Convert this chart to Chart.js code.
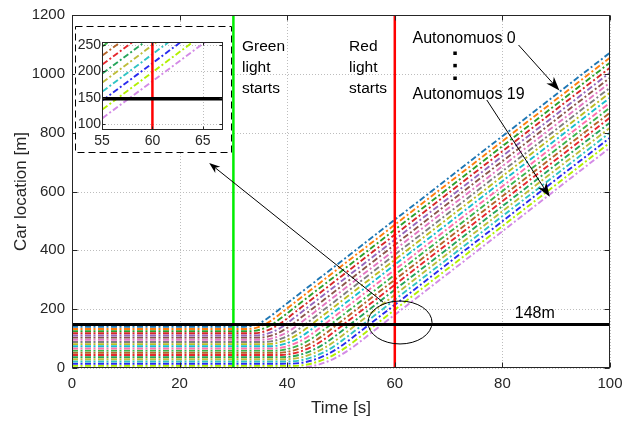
<!DOCTYPE html>
<html><head><meta charset="utf-8">
<script src="https://cdn.jsdelivr.net/npm/chart.js@4.4.1/dist/chart.umd.min.js"></script>
<style>
html,body{margin:0;padding:0;background:#fff;}
#wrap{position:relative;width:623px;height:421px;overflow:hidden;}
#main{position:absolute;left:0;top:0;}
#inset{position:absolute;left:75px;top:26px;}
</style></head><body>
<div id="wrap">
<canvas id="main" width="623" height="421"></canvas>
<canvas id="inset" width="157" height="127"></canvas>
</div>
<script>
const FONT = "'Liberation Sans', Arial, Helvetica, sans-serif";

// ---- data ----
const times = [0, 31, 33, 35, 37, 39, 41, 43, 45, 47, 49, 51, 53, 55, 60, 100];
const car00 = [140, 140, 141.5, 153.5, 177.4, 205.8, 234.2, 262.6, 291, 319.4, 347.8, 376.2, 404.6, 433, 504, 1072];
const car01 = [132.6, 132.6, 133.0, 141.3, 160.8, 188.8, 217.2, 245.6, 274, 302.4, 330.8, 359.2, 387.6, 416, 487, 1055];
const car02 = [125.3, 125.3, 125.3, 130.5, 146.2, 171.8, 200.2, 228.6, 257, 285.4, 313.8, 342.2, 370.6, 399, 470, 1038];
const car03 = [117.9, 117.9, 117.9, 120.7, 132.9, 154.9, 183.2, 211.6, 240, 268.4, 296.8, 325.2, 353.6, 382, 453, 1021];
const car04 = [110.5, 110.5, 110.5, 111.7, 120.9, 139.3, 166.2, 194.6, 223, 251.4, 279.8, 308.2, 336.6, 365, 436, 1004];
const car05 = [103.2, 103.2, 103.2, 103.5, 110.0, 125.3, 149.2, 177.6, 206, 234.4, 262.8, 291.2, 319.6, 348, 419, 987];
const car06 = [95.8, 95.8, 95.8, 95.8, 99.9, 112.3, 133.0, 160.6, 189, 217.4, 245.8, 274.2, 302.6, 331, 402, 970];
const car07 = [88.4, 88.4, 88.4, 88.4, 90.6, 100.4, 118.1, 143.6, 172, 200.4, 228.8, 257.2, 285.6, 314, 385, 953];
const car08 = [81.0, 81.0, 81.0, 81.0, 81.9, 89.4, 104.4, 126.9, 155, 183.4, 211.8, 240.2, 268.6, 297, 368, 936];
const car09 = [73.7, 73.7, 73.7, 73.7, 73.9, 79.3, 91.8, 111.5, 138, 166.4, 194.8, 223.2, 251.6, 280, 351, 919];
const car10 = [66.3, 66.3, 66.3, 66.3, 66.3, 69.7, 80.0, 97.1, 121.1, 149.4, 177.8, 206.2, 234.6, 263, 334, 902];
const car11 = [58.9, 58.9, 58.9, 58.9, 58.9, 60.8, 69.0, 83.7, 105.1, 132.4, 160.8, 189.2, 217.6, 246, 317, 885];
const car12 = [51.6, 51.6, 51.6, 51.6, 51.6, 52.4, 58.7, 71.3, 90.2, 115.4, 143.8, 172.2, 200.6, 229, 300, 868];
const car13 = [44.2, 44.2, 44.2, 44.2, 44.2, 44.4, 48.9, 59.5, 76.2, 99.0, 126.8, 155.2, 183.6, 212, 283, 851];
const car14 = [36.8, 36.8, 36.8, 36.8, 36.8, 36.8, 39.7, 48.5, 63.1, 83.5, 109.8, 138.2, 166.6, 195, 266, 834];
const car15 = [29.5, 29.5, 29.5, 29.5, 29.5, 29.5, 31.1, 38.1, 50.8, 69.1, 93.1, 121.2, 149.6, 178, 249, 817];
const car16 = [22.1, 22.1, 22.1, 22.1, 22.1, 22.1, 22.8, 28.2, 39.1, 55.4, 77.2, 104.2, 132.6, 161, 232, 800];
const car17 = [14.7, 14.7, 14.7, 14.7, 14.7, 14.7, 14.9, 18.8, 28.0, 42.5, 62.2, 87.2, 115.6, 144, 215, 783];
const car18 = [7.3, 7.3, 7.3, 7.3, 7.3, 7.3, 7.3, 9.8, 17.5, 30.2, 48.1, 71.0, 98.6, 127, 198, 766];
const car19 = [0, 0, 0, 0, 0, 0, 0, 1.4, 7.6, 18.7, 34.7, 55.7, 81.6, 110.6, 181, 749];
const cars = [car00, car01, car02, car03, car04, car05, car06, car07, car08, car09,
              car10, car11, car12, car13, car14, car15, car16, car17, car18, car19];
const carLabels = cars.map((_, i) => 'Autonomuos ' + i);
const carColors = ['#1f77b4', '#ff7f0e', '#2ca02c', '#d62728', '#9467bd', '#8c564b', '#e377c2', '#7f7f7f', '#bcbd22', '#17becf',
                   '#ff6fae', '#3cb44b', '#b5652a', '#e6282e', '#25a55a', '#bdbd3a', '#2fc4c4', '#2a2aee', '#b2f000', '#d38ae6'];

const xTicks = [0, 20, 40, 60, 80, 100];
const yTicks = [0, 200, 400, 600, 800, 1000, 1200];
const insetXTicks = [55, 60, 65];
const insetYTicks = [100, 150, 200, 250];
const greenLightTime = 30;
const redLightTime = 60;
const stopLine = 148;

// ---- annotation layout (data coordinates) ----
const notes = {
  green: {x: 31.6, lines: ['Green', 'light', 'starts'], ys: [1092, 1021, 948]},
  red: {x: 51.5, lines: ['Red', 'light', 'starts'], ys: [1092, 1021, 948]},
  auto0: {x: 63.3, y: 1121, text: 'Autonomuos 0'},
  auto19: {x: 63.3, y: 931, text: 'Autonomuos 19'},
  dots: {x: 71.2, ys: [1070, 1028, 985]},
  stopText: {x: 82.3, y: 186, text: '148m'},
  arrow0: {x1: 83.0, y1: 1098, x2: 90.6, y2: 943},
  arrow19: {x1: 77.1, y1: 911, x2: 88.8, y2: 582},
  arrowZoom: {x1: 57.8, y1: 224, x2: 25.5, y2: 697},
  ellipse: {x: 60.97, y: 154.7, rx: 5.95, ry: 73}
};

function makeDatasets() {
  return cars.map((arr, i) => ({
    label: carLabels[i],
    data: times.map((t, k) => ({x: t, y: arr[k]})),
    borderColor: carColors[i],
    backgroundColor: carColors[i],
    borderWidth: 1.9,
    borderDash: [6, 2.5, 2, 2.5],
    pointRadius: 0,
    fill: false,
    cubicInterpolationMode: 'monotone'
  }));
}

function drawArrow(ctx, x1, y1, x2, y2, len, half) {
  const ang = Math.atan2(y2 - y1, x2 - x1);
  const bx = x2 - len * Math.cos(ang), by = y2 - len * Math.sin(ang);
  const nx = x2 - len * 0.7 * Math.cos(ang), ny = y2 - len * 0.7 * Math.sin(ang);
  ctx.beginPath(); ctx.moveTo(x1, y1); ctx.lineTo(nx, ny); ctx.stroke();
  const px = -Math.sin(ang), py = Math.cos(ang);
  ctx.beginPath();
  ctx.moveTo(x2, y2);
  ctx.lineTo(bx + px * half, by + py * half);
  ctx.lineTo(nx, ny);
  ctx.lineTo(bx - px * half, by - py * half);
  ctx.closePath(); ctx.fill();
}

function drawGrid(chart, xt, yt, color) {
  const ctx = chart.ctx, ca = chart.chartArea, xs = chart.scales.x, ys = chart.scales.y;
  ctx.save();
  ctx.strokeStyle = color; ctx.lineWidth = 1; ctx.setLineDash([1, 2]);
  xt.forEach(v => { const x = Math.round(xs.getPixelForValue(v)) + 0.5;
    ctx.beginPath(); ctx.moveTo(x, ca.top); ctx.lineTo(x, ca.bottom); ctx.stroke(); });
  yt.forEach(v => { const y = Math.round(ys.getPixelForValue(v)) + 0.5;
    ctx.beginPath(); ctx.moveTo(ca.left, y); ctx.lineTo(ca.right, y); ctx.stroke(); });
  ctx.restore();
}

function drawBox(chart, xt, yt, tl) {
  const ctx = chart.ctx, ca = chart.chartArea, xs = chart.scales.x, ys = chart.scales.y;
  ctx.save();
  ctx.strokeStyle = '#262626'; ctx.lineWidth = 1; ctx.setLineDash([]);
  const L = Math.round(ca.left) + 0.5, R = Math.round(ca.right) - 0.5, T = Math.round(ca.top) + 0.5, B = Math.round(ca.bottom) - 0.5;
  ctx.strokeRect(L, T, R - L, B - T);
  ctx.beginPath();
  xt.forEach(v => { const x = Math.round(xs.getPixelForValue(v)) + 0.5;
    ctx.moveTo(x, B); ctx.lineTo(x, B - tl); ctx.moveTo(x, T); ctx.lineTo(x, T + tl); });
  yt.forEach(v => { const y = Math.round(ys.getPixelForValue(v)) + 0.5;
    ctx.moveTo(L, y); ctx.lineTo(L + tl, y); ctx.moveTo(R, y); ctx.lineTo(R - tl, y); });
  ctx.stroke();
  ctx.restore();
}

function drawSignals(chart, w) {
  const ctx = chart.ctx, ca = chart.chartArea, xs = chart.scales.x, ys = chart.scales.y;
  ctx.save();
  ctx.setLineDash([]);
  if (xs.min <= greenLightTime && xs.max >= greenLightTime) {
    const gx = xs.getPixelForValue(greenLightTime);
    ctx.strokeStyle = '#00ee00'; ctx.lineWidth = w.signal;
    ctx.beginPath(); ctx.moveTo(gx, ca.top); ctx.lineTo(gx, ca.bottom); ctx.stroke();
  }
  const rx = xs.getPixelForValue(redLightTime);
  ctx.strokeStyle = '#ff0000'; ctx.lineWidth = w.signal;
  ctx.beginPath(); ctx.moveTo(rx, ca.top); ctx.lineTo(rx, ca.bottom); ctx.stroke();
  const sy = ys.getPixelForValue(stopLine);
  ctx.strokeStyle = '#000'; ctx.lineWidth = w.stop;
  ctx.beginPath(); ctx.moveTo(ca.left, sy); ctx.lineTo(ca.right, sy); ctx.stroke();
  ctx.restore();
}

const mainDeco = {
  id: 'mainDeco',
  beforeDraw(chart) {
    const ctx = chart.ctx; ctx.save(); ctx.fillStyle = '#fff';
    ctx.fillRect(0, 0, chart.width, chart.height); ctx.restore();
  },
  beforeDatasetsDraw(chart) { drawGrid(chart, xTicks, yTicks, '#bdbdbd'); },
  afterDatasetsDraw(chart) {
    const ctx = chart.ctx, ca = chart.chartArea, xs = chart.scales.x, ys = chart.scales.y;
    const X = v => xs.getPixelForValue(v), Y = v => ys.getPixelForValue(v);
    drawSignals(chart, {signal: 2.5, stop: 3});
    drawBox(chart, xTicks, yTicks, 5);
    ctx.save();
    ctx.fillStyle = '#000'; ctx.strokeStyle = '#000';
    ctx.font = '15.5px ' + FONT; ctx.textAlign = 'left'; ctx.textBaseline = 'middle';
    [notes.green, notes.red].forEach(n => n.lines.forEach((s, k) => ctx.fillText(s, X(n.x), Y(n.ys[k]))));
    ctx.font = '16px ' + FONT;
    ctx.fillText(notes.auto0.text, X(notes.auto0.x), Y(notes.auto0.y));
    ctx.fillText(notes.auto19.text, X(notes.auto19.x), Y(notes.auto19.y));
    ctx.fillText(notes.stopText.text, X(notes.stopText.x), Y(notes.stopText.y));
    notes.dots.ys.forEach(v => ctx.fillRect(X(notes.dots.x) - 1.75, Y(v) - 1.75, 3.5, 3.5));
    ctx.lineWidth = 1;
    const a0 = notes.arrow0, a19 = notes.arrow19, az = notes.arrowZoom;
    drawArrow(ctx, X(a0.x1), Y(a0.y1), X(a0.x2), Y(a0.y2), 14, 5);
    drawArrow(ctx, X(a19.x1), Y(a19.y1), X(a19.x2), Y(a19.y2), 14, 5);
    drawArrow(ctx, X(az.x1), Y(az.y1), X(az.x2), Y(az.y2), 11, 4);
    const e = notes.ellipse;
    ctx.beginPath();
    ctx.ellipse(X(e.x), Y(e.y), Math.abs(X(e.x + e.rx) - X(e.x)), Math.abs(Y(e.y + e.ry) - Y(e.y)), 0, 0, Math.PI * 2);
    ctx.stroke();
    // axis titles
    ctx.fillStyle = '#262626';
    ctx.font = '17px ' + FONT; ctx.textAlign = 'center';
    ctx.fillText('Time [s]', (ca.left + ca.right) / 2, 408);
    ctx.save();
    ctx.translate(21, (ca.top + ca.bottom) / 2); ctx.rotate(-Math.PI / 2);
    ctx.fillText('Car location [m]', 0, 0);
    ctx.restore();
    ctx.restore();
  }
};

const insetDeco = {
  id: 'insetDeco',
  beforeDraw(chart) {
    const ctx = chart.ctx; ctx.save(); ctx.fillStyle = '#fff';
    ctx.fillRect(0, 0, chart.width, chart.height);
    ctx.strokeStyle = '#000'; ctx.lineWidth = 1; ctx.setLineDash([7, 4]);
    ctx.strokeRect(0.5, 0.5, chart.width - 1, chart.height - 1);
    ctx.restore();
  },
  beforeDatasetsDraw(chart) { drawGrid(chart, insetXTicks, insetYTicks, '#bdbdbd'); },
  afterDatasetsDraw(chart) {
    drawSignals(chart, {signal: 2.5, stop: 3.5});
    drawBox(chart, insetXTicks, insetYTicks, 3);
  }
};

function scaleOpts(min, max, tickVals, size, pad, fitProp, fitVal) {
  return {
    type: 'linear', min: min, max: max,
    afterBuildTicks: s => { s.ticks = tickVals.map(v => ({value: v})); },
    afterFit: s => { s[fitProp] = fitVal; s.paddingLeft = 0; s.paddingRight = 0; s.paddingTop = 0; s.paddingBottom = 0; },
    ticks: {font: {family: FONT, size: size}, color: '#262626', padding: pad, maxRotation: 0, autoSkip: false,
            callback: v => String(v)},
    grid: {display: false, drawTicks: false},
    border: {display: false}
  };
}

new Chart(document.getElementById('main'), {
  type: 'line',
  data: {datasets: makeDatasets()},
  options: {
    responsive: false, animation: false, devicePixelRatio: 1,
    layout: {padding: {top: 15, right: 13, left: 0, bottom: 0}},
    plugins: {legend: {display: false}, tooltip: {enabled: false}, title: {display: false}},
    scales: {
      x: scaleOpts(0, 100, xTicks, 15, 7, 'height', 53),
      y: scaleOpts(0, 1200, yTicks, 15, 7, 'width', 72)
    }
  },
  plugins: [mainDeco]
});

new Chart(document.getElementById('inset'), {
  type: 'line',
  data: {datasets: makeDatasets()},
  options: {
    responsive: false, animation: false, devicePixelRatio: 1,
    layout: {padding: {top: 16, right: 9, left: 0, bottom: 0}},
    plugins: {legend: {display: false}, tooltip: {enabled: false}, title: {display: false}},
    scales: {
      x: scaleOpts(55, 67, insetXTicks, 14, 3, 'height', 23),
      y: scaleOpts(89, 255, insetYTicks, 14, 1, 'width', 27)
    }
  },
  plugins: [insetDeco]
});
</script>
</body></html>
